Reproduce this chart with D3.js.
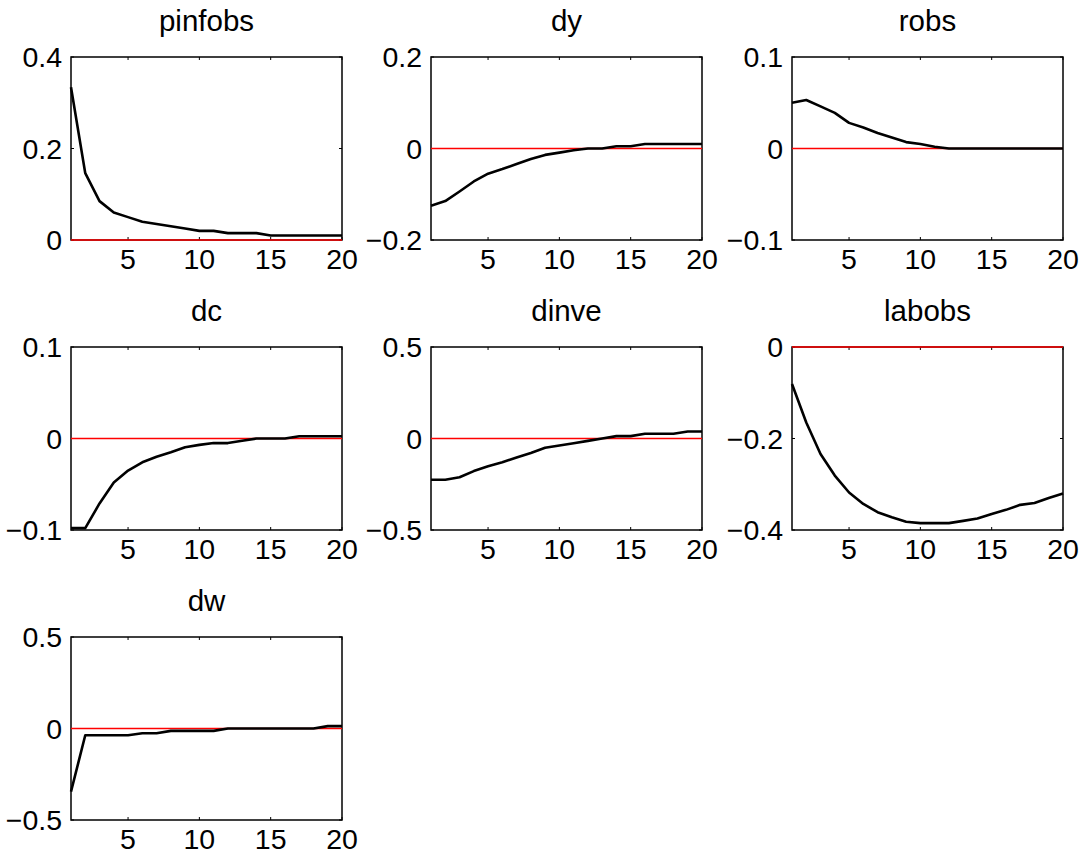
<!DOCTYPE html>
<html>
<head>
<meta charset="utf-8">
<script src="https://cdn.jsdelivr.net/npm/d3@7"></script>
<style>
  body { margin: 0; background: #fff; }
  text { font-family: "Liberation Sans", Arial, Helvetica, sans-serif; fill: #000; }
</style>
</head>
<body>
<script>
const horizon = [1, 2, 3, 4, 5, 6, 7, 8, 9, 10, 11, 12, 13, 14, 15, 16, 17, 18, 19, 20];
const xTicks = [5, 10, 15, 20];

const pinfobs = [0.334, 0.146, 0.085, 0.060, 0.050, 0.040, 0.035, 0.030, 0.025, 0.020,
                 0.020, 0.015, 0.015, 0.015, 0.010, 0.010, 0.010, 0.010, 0.010, 0.010];
const dy = [-0.125, -0.115, -0.094, -0.072, -0.055, -0.045, -0.034, -0.023, -0.014, -0.009,
            -0.004, 0.000, 0.000, 0.005, 0.005, 0.010, 0.010, 0.010, 0.010, 0.010];
const robs = [0.050, 0.053, 0.046, 0.039, 0.028, 0.023, 0.017, 0.012, 0.007, 0.005,
              0.002, 0.000, 0.000, 0.000, 0.000, 0.000, 0.000, 0.000, 0.000, 0.000];
const dc = [-0.098, -0.098, -0.071, -0.048, -0.035, -0.026, -0.020, -0.015, -0.0095, -0.007,
            -0.005, -0.005, -0.0025, 0.000, 0.000, 0.000, 0.0025, 0.0025, 0.0025, 0.0025];
const dinve = [-0.225, -0.225, -0.212, -0.178, -0.152, -0.130, -0.104, -0.079, -0.051, -0.038,
               -0.026, -0.013, 0.000, 0.013, 0.013, 0.026, 0.026, 0.026, 0.038, 0.038];
const labobs = [-0.081, -0.165, -0.234, -0.281, -0.318, -0.343, -0.361, -0.372, -0.382, -0.385,
                -0.385, -0.385, -0.380, -0.375, -0.365, -0.356, -0.345, -0.341, -0.330, -0.320];
const dw = [-0.345, -0.037, -0.037, -0.037, -0.037, -0.026, -0.026, -0.013, -0.013, -0.013,
            -0.013, 0.000, 0.000, 0.000, 0.000, 0.000, 0.000, 0.000, 0.013, 0.013];

const panels = [
  { name: "pinfobs", values: pinfobs, domain: [0, 0.4], ticks: [0, 0.2, 0.4], labels: ["0", "0.2", "0.4"] },
  { name: "dy", values: dy, domain: [-0.2, 0.2], ticks: [-0.2, 0, 0.2], labels: ["\u22120.2", "0", "0.2"] },
  { name: "robs", values: robs, domain: [-0.1, 0.1], ticks: [-0.1, 0, 0.1], labels: ["\u22120.1", "0", "0.1"] },
  { name: "dc", values: dc, domain: [-0.1, 0.1], ticks: [-0.1, 0, 0.1], labels: ["\u22120.1", "0", "0.1"] },
  { name: "dinve", values: dinve, domain: [-0.5, 0.5], ticks: [-0.5, 0, 0.5], labels: ["\u22120.5", "0", "0.5"] },
  { name: "labobs", values: labobs, domain: [-0.4, 0], ticks: [-0.4, -0.2, 0], labels: ["\u22120.4", "\u22120.2", "0"] },
  { name: "dw", values: dw, domain: [-0.5, 0.5], ticks: [-0.5, 0, 0.5], labels: ["\u22120.5", "0", "0.5"] }
];

const W = 1088, H = 863;
const plotW = 271, plotH = 183;
const colLeft = [71, 431, 792];
const rowTop = [57, 347, 637];
const tickLen = 3;

const svg = d3.select("body").append("svg")
    .attr("width", W)
    .attr("height", H);

panels.forEach((p, i) => {
  const col = i % 3, row = Math.floor(i / 3);
  const g = svg.append("g")
      .attr("transform", `translate(${colLeft[col]},${rowTop[row]})`);

  const x = d3.scaleLinear().domain([1, 20]).range([0, plotW]);
  const y = d3.scaleLinear().domain(p.domain).range([plotH, 0]);

  // inward ticks on all four sides
  const ticks = g.append("g").attr("stroke", "#000").attr("stroke-width", 1);
  xTicks.forEach(t => {
    ticks.append("line").attr("x1", x(t)).attr("x2", x(t)).attr("y1", plotH).attr("y2", plotH - tickLen);
    ticks.append("line").attr("x1", x(t)).attr("x2", x(t)).attr("y1", 0).attr("y2", tickLen);
  });
  p.ticks.forEach(t => {
    ticks.append("line").attr("x1", 0).attr("x2", tickLen).attr("y1", y(t)).attr("y2", y(t));
    ticks.append("line").attr("x1", plotW).attr("x2", plotW - tickLen).attr("y1", y(t)).attr("y2", y(t));
  });

  g.append("rect")
      .attr("x", 0).attr("y", 0)
      .attr("width", plotW).attr("height", plotH)
      .attr("fill", "none")
      .attr("stroke", "#000")
      .attr("stroke-width", 1.5);

  g.selectAll(".xlab").data(xTicks)
    .enter().append("text")
      .attr("class", "xlab")
      .attr("x", d => x(d))
      .attr("y", plotH + 29)
      .attr("text-anchor", "middle")
      .style("font-size", "28.5px")
      .text(d => d);

  g.selectAll(".ylab").data(p.ticks)
    .enter().append("text")
      .attr("class", "ylab")
      .attr("x", -9)
      .attr("y", d => y(d))
      .attr("dy", "0.36em")
      .attr("text-anchor", "end")
      .style("font-size", "28.5px")
      .text((d, k) => p.labels[k]);

  g.append("text")
      .attr("x", plotW / 2)
      .attr("y", -26)
      .attr("text-anchor", "middle")
      .style("font-size", "29.5px")
      .text(p.name);

  // zero reference line
  g.append("line")
      .attr("x1", 0).attr("x2", plotW)
      .attr("y1", y(0)).attr("y2", y(0))
      .attr("stroke", "#ff0000")
      .attr("stroke-width", 1.4);

  const line = d3.line()
      .x((d, k) => x(horizon[k]))
      .y(d => y(d));

  g.append("path")
      .datum(p.values)
      .attr("fill", "none")
      .attr("stroke", "#000")
      .attr("stroke-width", 2.6)
      .attr("stroke-linejoin", "round")
      .attr("d", line);
});
</script>
</body>
</html>
